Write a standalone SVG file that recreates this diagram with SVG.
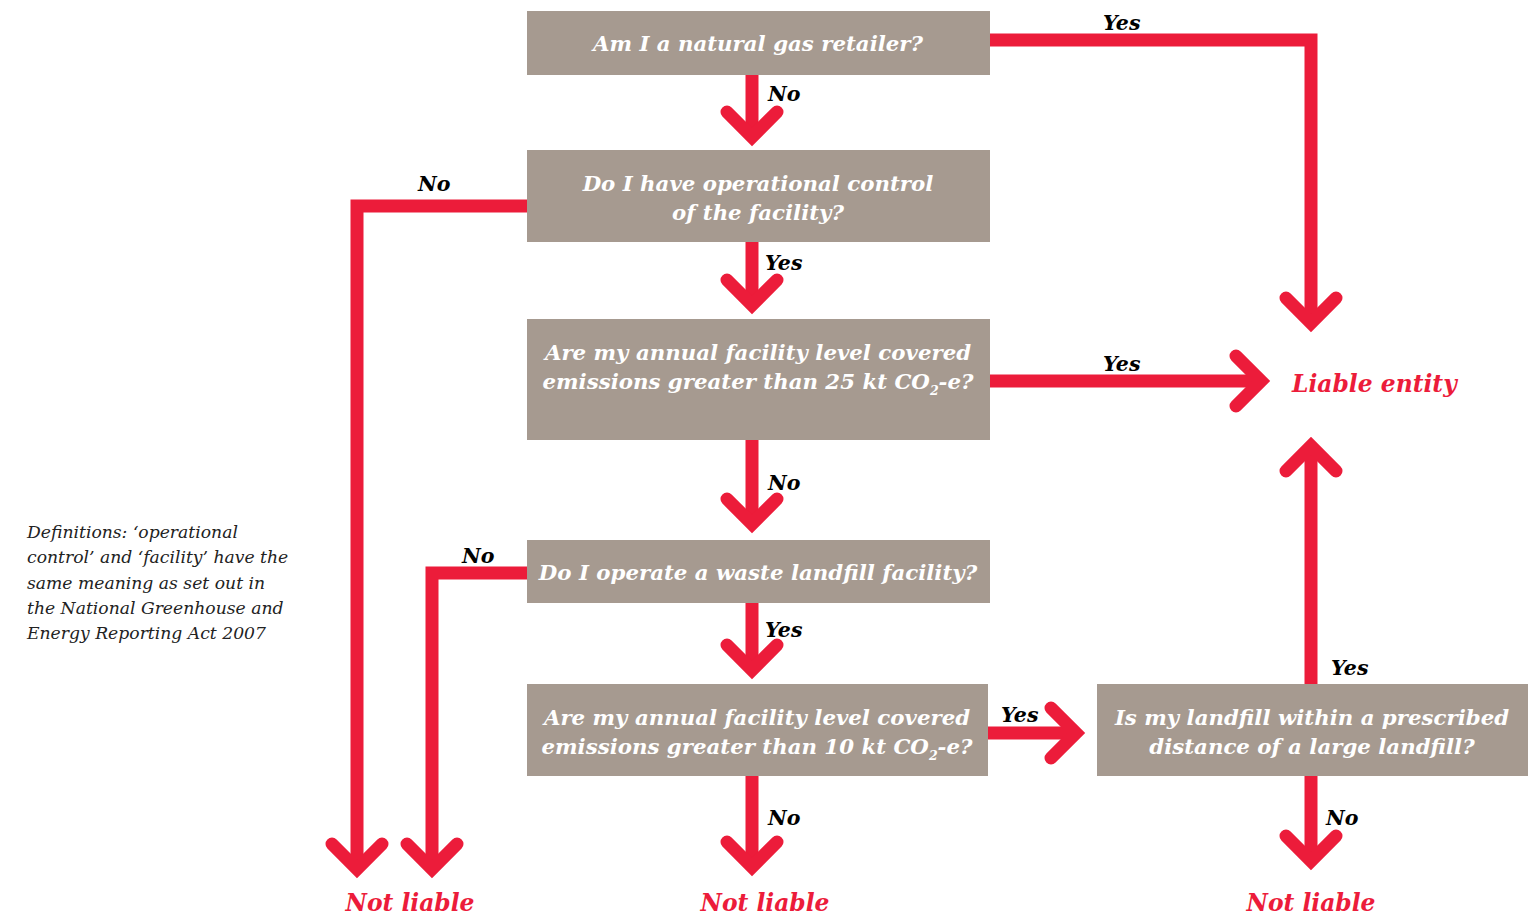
<svg xmlns="http://www.w3.org/2000/svg" xmlns:xlink="http://www.w3.org/1999/xlink" width="1532" height="917" viewBox="0 0 1532 917">
<style>
.box{fill:#A69A90}
.bt{font-family:"DejaVu Serif","Liberation Serif",serif;font-weight:bold;font-style:italic;font-size:21.3px;fill:#fff;text-anchor:middle}
.lbl{font-family:"DejaVu Serif","Liberation Serif",serif;font-weight:bold;font-style:italic;font-size:20.5px;fill:#000}
.res{font-family:"DejaVu Serif","Liberation Serif",serif;font-weight:bold;font-style:italic;font-size:23.4px;fill:#EC1C3A}
.def{font-family:"DejaVu Serif","Liberation Serif",serif;font-style:italic;font-size:17.2px;fill:#222}
.ln{fill:none;stroke:#EC1C3A;stroke-width:13;stroke-linejoin:miter}
.hd{fill:none;stroke:#EC1C3A;stroke-width:13;stroke-linecap:round;stroke-linejoin:miter;stroke-miterlimit:10}
</style>
<defs>
<path id="chev" class="hd" d="M-25,-25 L0,0 L25,-25"/>
</defs>
<g id="connectors">
<polyline class="ln" points="752,75 752,137"/>
<use xlink:href="#chev" href="#chev" transform="translate(752,137)"/>
<polyline class="ln" points="752,242 752,305"/>
<use xlink:href="#chev" href="#chev" transform="translate(752,305)"/>
<polyline class="ln" points="752,440 752,524"/>
<use xlink:href="#chev" href="#chev" transform="translate(752,524)"/>
<polyline class="ln" points="752,603 752,670"/>
<use xlink:href="#chev" href="#chev" transform="translate(752,670)"/>
<polyline class="ln" points="752,776 752,867"/>
<use xlink:href="#chev" href="#chev" transform="translate(752,867)"/>
<polyline class="ln" points="990,40 1311,40 1311,323"/>
<use xlink:href="#chev" href="#chev" transform="translate(1311,323)"/>
<polyline class="ln" points="990,381 1261,381"/>
<use xlink:href="#chev" href="#chev" transform="translate(1261,381) rotate(-90)"/>
<polyline class="ln" points="1311,684 1311,446"/>
<use xlink:href="#chev" href="#chev" transform="translate(1311,446) rotate(180)"/>
<polyline class="ln" points="1311,776 1311,861"/>
<use xlink:href="#chev" href="#chev" transform="translate(1311,861)"/>
<polyline class="ln" points="988,733 1076,733"/>
<use xlink:href="#chev" href="#chev" transform="translate(1076,733) rotate(-90)"/>
<polyline class="ln" points="527,206 357,206 357,869"/>
<use xlink:href="#chev" href="#chev" transform="translate(357,869)"/>
<polyline class="ln" points="527,573 432,573 432,869"/>
<use xlink:href="#chev" href="#chev" transform="translate(432,869)"/>
<text class="lbl" x="768" y="101">No</text>
<text class="lbl" x="765" y="270">Yes</text>
<text class="lbl" x="768" y="490">No</text>
<text class="lbl" x="765" y="637">Yes</text>
<text class="lbl" x="768" y="825">No</text>
<text class="lbl" x="1103" y="30">Yes</text>
<text class="lbl" x="1103" y="371">Yes</text>
<text class="lbl" x="1331" y="675">Yes</text>
<text class="lbl" x="1326" y="825">No</text>
<text class="lbl" x="1001" y="722">Yes</text>
<text class="lbl" x="418" y="191">No</text>
<text class="lbl" x="462" y="563">No</text>
</g>
<g id="q1">
<rect class="box" x="527" y="11" width="463" height="64"/>
<text class="bt" x="758" y="51">Am I a natural gas retailer?</text>
</g>
<g id="q2">
<rect class="box" x="527" y="150" width="463" height="92"/>
<text class="bt" x="758" y="191">Do I have operational control</text>
<text class="bt" x="758" y="220">of the facility?</text>
</g>
<g id="q3">
<rect class="box" x="527" y="319" width="463" height="121"/>
<text class="bt" x="758" y="360">Are my annual facility level covered</text>
<text class="bt" x="758" y="389">emissions greater than 25 kt CO<tspan font-size="12.5" dy="6">2</tspan><tspan dy="-6">-e?</tspan></text>
</g>
<g id="q4">
<rect class="box" x="527" y="540" width="463" height="63"/>
<text class="bt" x="758" y="580">Do I operate a waste landfill facility?</text>
</g>
<g id="q5">
<rect class="box" x="527" y="684" width="461" height="92"/>
<text class="bt" x="757" y="725">Are my annual facility level covered</text>
<text class="bt" x="757" y="754">emissions greater than 10 kt CO<tspan font-size="12.5" dy="6">2</tspan><tspan dy="-6">-e?</tspan></text>
</g>
<g id="q6">
<rect class="box" x="1097" y="684" width="431" height="92"/>
<text class="bt" x="1312" y="725">Is my landfill within a prescribed</text>
<text class="bt" x="1312" y="754">distance of a large landfill?</text>
</g>
<g id="liable">
<text class="res" x="1292" y="392">Liable entity</text>
</g>
<g id="notliable1">
<text class="res" x="410" y="911" text-anchor="middle">Not liable</text>
</g>
<g id="notliable2">
<text class="res" x="765" y="911" text-anchor="middle">Not liable</text>
</g>
<g id="notliable3">
<text class="res" x="1311" y="911" text-anchor="middle">Not liable</text>
</g>
<g id="definitions">
<text class="def" x="27" y="538">Definitions: ‘operational</text>
<text class="def" x="27" y="563">control’ and ‘facility’ have the</text>
<text class="def" x="27" y="589">same meaning as set out in</text>
<text class="def" x="27" y="614">the National Greenhouse and</text>
<text class="def" x="27" y="639">Energy Reporting Act 2007</text>
</g>
</svg>
